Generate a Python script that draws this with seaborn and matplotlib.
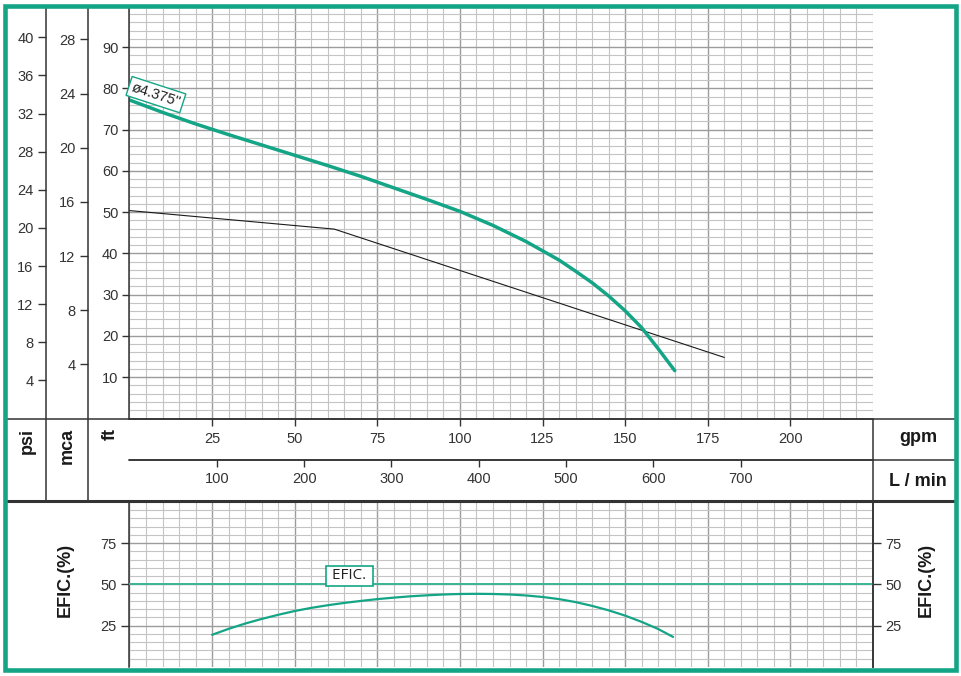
# Pump performance chart: head (ft / psi / mca) and efficiency vs flow
import numpy as np
import pandas as pd
import matplotlib
matplotlib.use("Agg")
import matplotlib.pyplot as plt
import seaborn as sns
from matplotlib.ticker import MultipleLocator, FixedLocator, NullLocator
from matplotlib.lines import Line2D
from matplotlib.patches import Rectangle

# ------------------------------------------
# Data
# ------------------------------------------
head_gpm = [0, 10, 20, 30, 40, 50, 60, 70, 80, 90, 100, 110, 120, 130, 135, 140, 145, 150,
            155, 160, 165]
head_ft = [77.2, 74.2, 71.4, 68.8, 66.3, 63.8, 61.3, 58.7, 55.9, 53.1, 50.2, 46.8, 42.9, 38.4,
           35.7, 32.9, 29.7, 26.1, 22.0, 16.9, 11.6]

system_gpm = [0, 62, 180]
system_ft = [50.4, 45.9, 14.8]

eff_gpm = [25, 30, 35, 40, 45, 50, 55, 60, 65, 70, 75, 80, 85, 90, 95, 100, 105, 110, 115,
           120, 125, 130, 135, 140, 145, 150, 155, 160, 164.5]
eff_pct = [19.5, 23.1, 26.3, 29.1, 31.6, 33.9, 35.8, 37.4, 38.8, 40.0, 41.1, 42.0, 42.8, 43.4,
           43.9, 44.2, 44.3, 44.2, 43.9, 43.3, 42.4, 41.1, 39.3, 37.0, 34.3, 31.1, 27.3, 23.0,
           18.2]
eff_ref = 50

impeller_label = 'ø4.375"'
eff_label = "EFIC."

gpm_ticks = [25, 50, 75, 100, 125, 150, 175, 200]
lpm_ticks = [100, 200, 300, 400, 500, 600, 700]
ft_ticks = [10, 20, 30, 40, 50, 60, 70, 80, 90]
psi_ticks = [4, 8, 12, 16, 20, 24, 28, 32, 36, 40]
mca_ticks = [4, 8, 12, 16, 20, 24, 28]
eff_ticks = [25, 50, 75]

GPM_MAX = 225
FT_MAX = 99.5
FT_PER_PSI = 2.31
FT_PER_M = 3.281
LPM_PER_GPM = 3.785

# ------------------------------------------
# Style
# ------------------------------------------
sns.set_style("white")
plt.rcParams["font.family"] = ["Liberation Sans", "DejaVu Sans"]

TEAL = "#14a586"
DARK = "#333333"
W, H = 962, 676

fig = plt.figure(figsize=(W / 100, H / 100), dpi=100)


def rect(x0, y0, x1, y1):
    # pixel box (top-left origin) -> figure fraction
    return [x0 / W, 1 - y1 / H, (x1 - x0) / W, (y1 - y0) / H]


def fig_line(x0, y0, x1, y1, lw=1.1, color=DARK):
    fig.add_artist(Line2D([x0 / W, x1 / W], [1 - y0 / H, 1 - y1 / H],
                          transform=fig.transFigure, color=color, lw=lw,
                          solid_capstyle="butt", zorder=10))


def style_grid(ax, y_minor):
    ax.xaxis.set_minor_locator(MultipleLocator(5))
    ax.yaxis.set_minor_locator(MultipleLocator(y_minor))
    ax.grid(which="major", color="#9c9c9c", lw=1.0)
    ax.grid(which="minor", color="#c4c4c4", lw=0.8)
    ax.set_axisbelow(True)
    ax.tick_params(which="minor", length=0)


# ------------------------------------------
# Head chart
# ------------------------------------------
ax_head = fig.add_axes(rect(129.5, 8, 873, 418.5))
head_df = pd.DataFrame({"gpm": head_gpm, "ft": head_ft})
sys_df = pd.DataFrame({"gpm": system_gpm, "ft": system_ft})
sns.lineplot(data=sys_df, x="gpm", y="ft", ax=ax_head, color="#1a1a1a", linewidth=0.8, sort=False)
sns.lineplot(data=head_df, x="gpm", y="ft", ax=ax_head, color=TEAL, linewidth=2.5, sort=False)
ax_head.set_xlim(0, GPM_MAX)
ax_head.set_ylim(0, FT_MAX)
ax_head.set_xlabel("")
ax_head.set_ylabel("")
ax_head.xaxis.set_major_locator(FixedLocator(gpm_ticks))
ax_head.yaxis.set_major_locator(FixedLocator(ft_ticks))
style_grid(ax_head, 2)
for s in ["top", "right"]:
    ax_head.spines[s].set_visible(False)
for s in ["left", "bottom"]:
    ax_head.spines[s].set_color(DARK)
    ax_head.spines[s].set_linewidth(1.1)
ax_head.tick_params(axis="both", which="major", length=5, width=1, color=DARK,
                    labelsize=10.5, labelcolor=DARK, left=True, bottom=True)
ax_head.tick_params(axis="x", pad=5)
ax_head.tick_params(axis="y", pad=3)

ax_head.text(head_gpm[0] + 8, head_ft[0] + 1.3, impeller_label, rotation=-18,
             rotation_mode="anchor", ha="center", va="center", fontsize=10.5, color="#222222",
             bbox=dict(boxstyle="square,pad=0.2", fc="white", ec=TEAL, lw=1.0), zorder=6)

# L/min scale below gpm
sec = ax_head.secondary_xaxis(-(460 - 418.5) / 410.5,
                              functions=(lambda g: g * LPM_PER_GPM, lambda l: l / LPM_PER_GPM))
sec.set_xticks(lpm_ticks)
sec.tick_params(length=5, width=1, color=DARK, labelsize=10.5, labelcolor=DARK, pad=3.5)
sec.spines["bottom"].set_color(DARK)
sec.spines["bottom"].set_linewidth(1.1)

# psi and mca scales
for xpx, conv, ticks in [(46, FT_PER_PSI, psi_ticks), (88, FT_PER_M, mca_ticks)]:
    ax_u = fig.add_axes(rect(xpx, 8, xpx + 1, 418.5))
    ax_u.set_ylim(0, FT_MAX / conv)
    ax_u.yaxis.set_major_locator(FixedLocator(ticks))
    ax_u.xaxis.set_major_locator(NullLocator())
    for s in ax_u.spines.values():
        s.set_visible(False)
    ax_u.patch.set_visible(False)
    ax_u.tick_params(axis="y", length=6, width=1, color=DARK, labelsize=10.5,
                     labelcolor=DARK, pad=3, left=True)

# ------------------------------------------
# Efficiency chart
# ------------------------------------------
ax_eff = fig.add_axes(rect(129.5, 501, 873, 667))
eff_df = pd.DataFrame({"gpm": eff_gpm, "eff": eff_pct})
sns.lineplot(data=eff_df, x="gpm", y="eff", ax=ax_eff, color=TEAL, linewidth=1.6, sort=False)
ax_eff.axhline(eff_ref, color="#3cb597", lw=1.4, zorder=3)
ax_eff.set_xlim(0, GPM_MAX)
ax_eff.set_ylim(0, 100.5)
ax_eff.set_xlabel("")
ax_eff.set_ylabel("")
ax_eff.xaxis.set_major_locator(MultipleLocator(25))
ax_eff.yaxis.set_major_locator(FixedLocator(eff_ticks))
style_grid(ax_eff, 5)
for s in ["top", "bottom"]:
    ax_eff.spines[s].set_visible(False)
for s in ["left", "right"]:
    ax_eff.spines[s].set_color(DARK)
    ax_eff.spines[s].set_linewidth(1.1)
ax_eff.tick_params(axis="x", which="major", length=0, labelbottom=False)
ax_eff.tick_params(axis="y", which="major", length=6, width=1, color=DARK, labelsize=10.5,
                   labelcolor=DARK, pad=3, left=True, right=True, labelleft=True, labelright=True)
ax_eff.text(66.5, 55.2, f" {eff_label} ", ha="center", va="center", fontsize=11,
            family=["Open Sans", "DejaVu Sans"], color="#222222",
            bbox=dict(boxstyle="square,pad=0.15", fc="white", ec=TEAL, lw=1.2), zorder=6)

# ------------------------------------------
# Table lines and unit labels
# ------------------------------------------
fig_line(5, 418.5, 957, 418.5)
fig_line(129.5, 460, 957, 460)
fig_line(5, 501, 957, 501, lw=2.2)
fig_line(46, 8, 46, 501)
fig_line(88, 8, 88, 501)
fig_line(873, 418.5, 873, 668)

bold = dict(fontsize=13, fontweight="bold", color="#1a1a1a")
for xpx, txt in [(27, "psi"), (67, "mca"), (110, "ft")]:
    fig.text(xpx / W, 1 - 428 / H, txt, rotation=90, ha="center", va="top", **bold)
fig.text(918 / W, 1 - 437 / H, "gpm", ha="center", va="center", **bold)
fig.text(918 / W, 1 - 481 / H, "L / min", ha="center", va="center", **bold)
fig.text(65 / W, 1 - 580 / H, "EFIC.(%)", rotation=90, ha="center", va="center", **bold)
fig.text(926 / W, 1 - 580 / H, "EFIC.(%)", rotation=90, ha="center", va="center", **bold)

# Outer frame
fig.add_artist(Rectangle((5 / W, 1 - 670 / H), 951 / W, 664 / H, transform=fig.transFigure,
                         fill=False, edgecolor=TEAL, lw=3.3, zorder=20))

fig.savefig("out.png", dpi=100)
